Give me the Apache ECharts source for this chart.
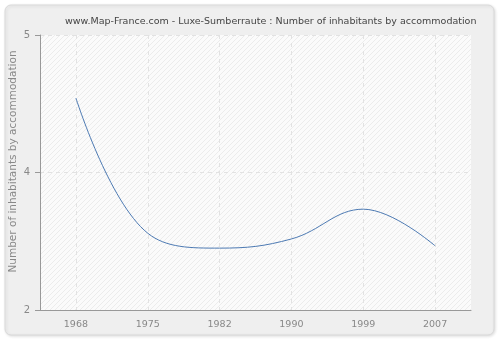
<!DOCTYPE html>
<html>
<head>
<meta charset="utf-8">
<script src="https://cdn.jsdelivr.net/npm/echarts@6/dist/echarts.min.js"></script>
<style>
  html, body { margin: 0; padding: 0; background: #ffffff; }
  #chart { width: 500px; height: 340px; }
</style>
</head>
<body>
<div id="chart"></div>
<script>
// Census years and average number of inhabitants per dwelling
const years = ['1968', '1975', '1982', '1990', '1999', '2007'];
const inhabitantsPerDwelling = [4.25, 3.07, 2.94, 3.02, 3.28, 2.96];

// Value-axis ticks and the text shown for each of them
const yTickValues = [2.4, 3.6, 4.8];
const yTickLabels = ['2', '4', '5'];

const titleText = 'www.Map-France.com - Luxe-Sumberraute : Number of inhabitants by accommodation';
const yAxisTitle = 'Number of inhabitants by accommodation';

// Faint diagonal hatching for the plotting area
function hatchPattern() {
  const c = document.createElement('canvas');
  c.width = 5; c.height = 5;
  const g = c.getContext('2d');
  g.fillStyle = '#fbfbfb';
  g.fillRect(0, 0, 5, 5);
  g.strokeStyle = '#ececec';
  g.lineWidth = 1;
  g.beginPath();
  g.moveTo(0, 5); g.lineTo(5, 0);
  g.moveTo(-1, 1); g.lineTo(1, -1);
  g.moveTo(4, 6); g.lineTo(6, 4);
  g.stroke();
  return c;
}

const chart = echarts.init(document.getElementById('chart'), null, { renderer: 'canvas' });

const font = 'DejaVu Sans, Verdana, sans-serif';

chart.setOption({
  animation: false,
  backgroundColor: '#ffffff',
  graphic: [{
    type: 'rect',
    z: -10,
    silent: true,
    shape: { x: 5, y: 5, width: 489, height: 330, r: 6 },
    style: {
      fill: '#efefef',
      stroke: '#dadada',
      lineWidth: 1,
      shadowBlur: 3,
      shadowColor: 'rgba(0,0,0,0.12)',
      shadowOffsetX: 1,
      shadowOffsetY: 1
    }
  }],
  title: {
    text: titleText,
    left: 60,
    top: 12,
    textStyle: { fontFamily: font, fontSize: 9.5, fontWeight: 'normal', color: '#444444' }
  },
  grid: {
    left: 40, right: 29, top: 35, bottom: 30,
    outerBoundsMode: 'none',
    containLabel: false,
    show: true,
    borderWidth: 0,
    backgroundColor: { image: hatchPattern(), repeat: 'repeat' }
  },
  xAxis: {
    type: 'category',
    data: years,
    boundaryGap: true,
    axisLine: { lineStyle: { color: '#999999', width: 1 } },
    axisTick: { alignWithLabel: true, length: 5, lineStyle: { color: '#999999' } },
    axisLabel: { fontFamily: font, fontSize: 9.5, color: '#888888', margin: 10 },
    splitLine: {
      show: true,
      alignWithLabel: true,
      lineStyle: { color: '#e2e2e2', type: [4, 4], width: 1 }
    }
  },
  yAxis: {
    type: 'value',
    min: yTickValues[0],
    max: yTickValues[yTickValues.length - 1],
    interval: yTickValues[1] - yTickValues[0],
    name: yAxisTitle,
    nameLocation: 'middle',
    nameGap: 21,
    nameMoveOverlap: false,
    nameTextStyle: { fontFamily: font, fontSize: 10.5, color: '#888888', padding: [0, 0, 0, 22] },
    axisLine: { show: true, lineStyle: { color: '#999999', width: 1 } },
    axisTick: { show: true, length: 5, lineStyle: { color: '#999999' } },
    axisLabel: {
      fontFamily: font, fontSize: 10, color: '#888888', margin: 10,
      formatter: function (v) {
        let best = 0;
        for (let i = 1; i < yTickValues.length; i++) {
          if (Math.abs(yTickValues[i] - v) < Math.abs(yTickValues[best] - v)) best = i;
        }
        return yTickLabels[best];
      }
    },
    splitLine: { show: true, lineStyle: { color: '#e2e2e2', type: [4, 4], width: 1 } }
  },
  series: [{
    type: 'line',
    data: inhabitantsPerDwelling,
    smooth: 0.4,
    symbol: 'none',
    lineStyle: { color: '#4d7ab3', width: 1 }
  }]
});
</script>
</body>
</html>
